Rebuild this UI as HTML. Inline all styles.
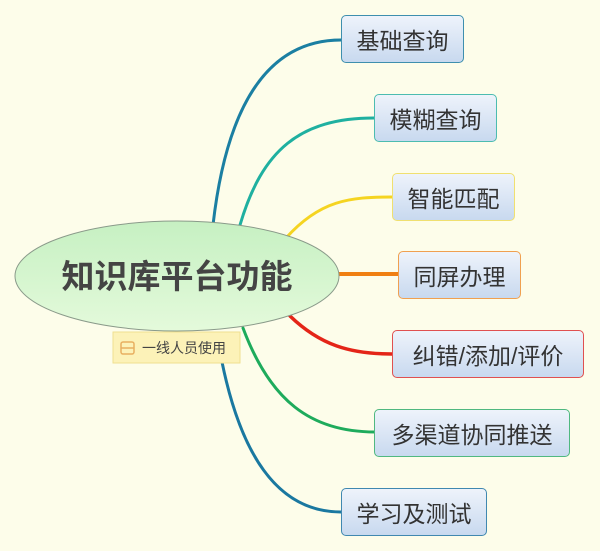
<!DOCTYPE html>
<html><head><meta charset="utf-8"><style>
body{margin:0;width:600px;height:551px;background:#fdfdea;overflow:hidden;position:relative;font-family:"Liberation Sans","Noto Sans CJK SC",sans-serif}
.b{position:absolute;box-sizing:border-box;border:1.5px solid;border-radius:5px;background:linear-gradient(#eef3fb,#c8d9ef);font-size:23px;color:#333;display:flex;align-items:center;justify-content:center;height:48px}
svg{position:absolute;left:0;top:0}
</style></head><body>
<svg width="600" height="551">
<defs><linearGradient id="g" x1="0" y1="0" x2="0" y2="1"><stop offset="0" stop-color="#c6f0c2"/><stop offset="1" stop-color="#e4fadb"/></linearGradient></defs>
<g fill="none" stroke-linecap="round">
<path d="M213,225 C225,120 260,40 341,40" stroke="#1b7fa2" stroke-width="3"/>
<path d="M240,225 C262,150 300,118 374,118" stroke="#1fb0a0" stroke-width="3"/>
<path d="M286,238 C320,200 350,197 392,197" stroke="#f5d421" stroke-width="3"/>
<path d="M338,274 L398,274" stroke="#f08012" stroke-width="4"/>
<path d="M290,316 C320,345 350,354 392,354" stroke="#e42518" stroke-width="3.5"/>
<path d="M243,328 C270,400 310,432 375,432" stroke="#1eab5c" stroke-width="3"/>
<path d="M222,362 C240,450 275,512 341,512" stroke="#1a78a0" stroke-width="3"/>
</g>
<ellipse cx="177" cy="276" rx="162" ry="55" fill="url(#g)" stroke="#8a9a8a" stroke-width="1"/>
<text x="177" y="288" text-anchor="middle" font-family="Liberation Sans,Noto Sans CJK SC,sans-serif" font-size="33" font-weight="bold" fill="#444">知识库平台功能</text>
<rect x="113" y="332" width="127" height="31" fill="#fcf2b8" stroke="#f0e090"/>
<rect x="121" y="342" width="13" height="12" rx="2" fill="none" stroke="#e8b060" stroke-width="1.5"/>
<line x1="121" y1="348" x2="134" y2="348" stroke="#e8b060" stroke-width="1.5"/>
<text x="142" y="353" font-family="Liberation Sans,Noto Sans CJK SC,sans-serif" font-size="14" fill="#444">一线人员使用</text>
</svg>
<div class="b" style="left:341px;top:15px;width:123px;border-color:#3e8fae">基础查询</div>
<div class="b" style="left:374px;top:94px;width:123px;border-color:#4cbcb0">模糊查询</div>
<div class="b" style="left:392px;top:173px;width:123px;border-color:#f0e070">智能匹配</div>
<div class="b" style="left:398px;top:251px;width:123px;border-color:#f0a050">同屏办理</div>
<div class="b" style="left:392px;top:330px;width:192px;border-color:#e05050">纠错/添加/评价</div>
<div class="b" style="left:374px;top:409px;width:196px;border-color:#50b880">多渠道协同推送</div>
<div class="b" style="left:341px;top:488px;width:146px;border-color:#4088b0">学习及测试</div>
</body></html>
